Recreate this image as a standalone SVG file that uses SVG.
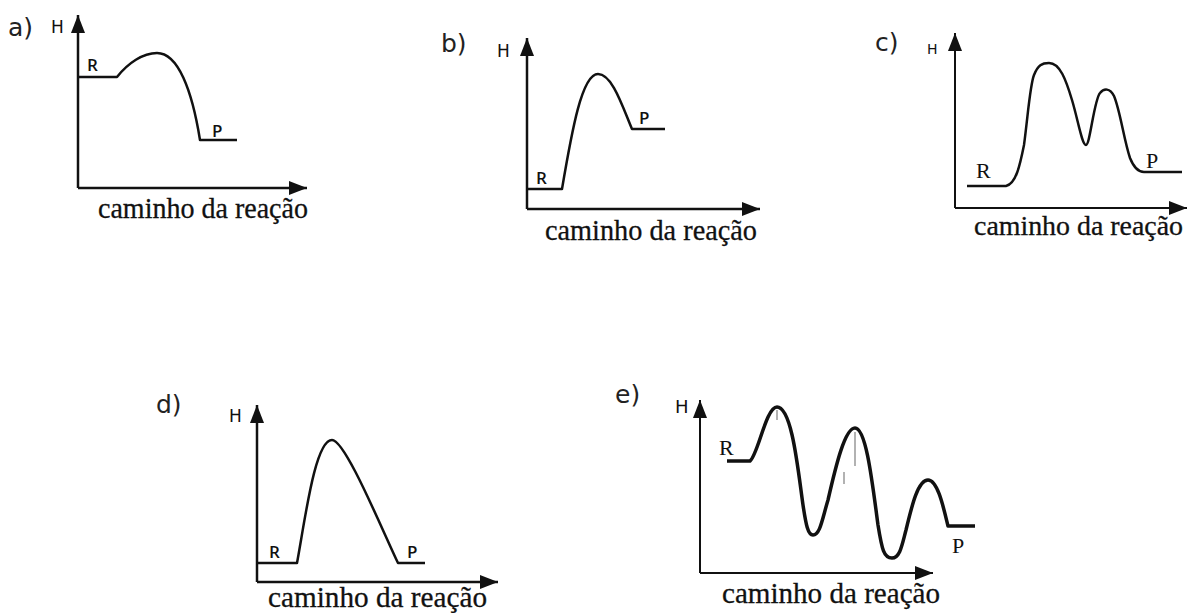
<svg xmlns="http://www.w3.org/2000/svg" width="1191" height="613" viewBox="0 0 1191 613">
<defs>
<marker id="arr" markerUnits="userSpaceOnUse" markerWidth="20" markerHeight="14" refX="18" refY="7" orient="auto">
<path d="M0,0 L18,7 L0,14 Z" fill="#111"/>
</marker>
<style>
.ax{stroke:#111;stroke-width:2.5;fill:none}
.cv{stroke:#111;stroke-width:2.5;fill:none;stroke-linejoin:round}
.cvt{stroke:#111;stroke-width:3.5;fill:none;stroke-linejoin:round}
.lbl{font-family:"DejaVu Sans",Verdana,sans-serif;font-size:25px;fill:#222}
.h{font-family:"DejaVu Sans",Verdana,sans-serif;font-size:17px;fill:#111}
.rp{font-family:"Open Sans","DejaVu Sans",sans-serif;font-size:17px;font-weight:600;fill:#111}
.rps{font-family:"Liberation Serif","Times New Roman",serif;font-size:22px;fill:#111}
.cap{font-family:"Liberation Serif","Times New Roman",serif;font-size:30px;fill:#111;stroke:#111;stroke-width:0.3}
.ghost{stroke:#999;stroke-width:1.5;fill:none}
</style>
</defs>
<rect width="1191" height="613" fill="#fff"/>

<g id="panel-a">
<text class="lbl" x="8" y="36">a)</text>
<text class="h" x="51" y="33">H</text>
<g class="connectors">
<path class="ax" d="M78,188 V15" marker-end="url(#arr)"/>
<path class="ax" d="M78,188 H307" marker-end="url(#arr)"/>
</g>
<path class="cv" d="M78,77 H117 C128,63 143,53 157,53 C178,53 192,90 200,140 H237"/>
<text class="rp" x="87" y="71">R</text>
<text class="rp" x="212" y="137">P</text>
<text class="cap" x="98" y="218" textLength="210" lengthAdjust="spacingAndGlyphs">caminho da reação</text>
</g>

<g id="panel-b">
<text class="lbl" x="441" y="52">b)</text>
<text class="h" x="497" y="57">H</text>
<g class="connectors">
<path class="ax" d="M527,209 V38" marker-end="url(#arr)"/>
<path class="ax" d="M527,209 H760" marker-end="url(#arr)"/>
</g>
<path class="cv" d="M527,189 H562 C572,130 582,74 598,74 C612,74 622,105 632,129 H665"/>
<text class="rp" x="536" y="184">R</text>
<text class="rp" x="639" y="124">P</text>
<text class="cap" x="545" y="240" textLength="212" lengthAdjust="spacingAndGlyphs">caminho da reação</text>
</g>

<g id="panel-c">
<text class="lbl" x="875" y="51">c)</text>
<text class="h" x="927" y="54" style="font-size:14px">H</text>
<g class="connectors">
<path class="ax" style="stroke-width:2" d="M955,208 V33" marker-end="url(#arr)"/>
<path class="ax" style="stroke-width:2" d="M955,208 H1187" marker-end="url(#arr)"/>
</g>
<path class="cv" d="M967,186 H1006 C1016,184 1020,165 1024,145 C1028,115 1030,85 1034,75 C1038,65 1042,63 1049,63 C1060,63 1066,80 1072,100 C1078,120 1082,145 1086,145 C1090,145 1094,100 1100,93 C1104,88 1110,88 1114,96 C1120,110 1124,140 1130,158 C1134,168 1138,172 1144,172 H1182"/>
<text class="rps" x="976" y="178">R</text>
<text class="rps" x="1146" y="168">P</text>
<text class="cap" x="974" y="235" style="font-size:28px" textLength="209" lengthAdjust="spacingAndGlyphs">caminho da reação</text>
</g>

<g id="panel-d">
<text class="lbl" x="156" y="413">d)</text>
<text class="h" x="229" y="422">H</text>
<g class="connectors">
<path class="ax" d="M257,582 V405" marker-end="url(#arr)"/>
<path class="ax" d="M257,582 H498" marker-end="url(#arr)"/>
</g>
<path class="cv" d="M257,563 H297 C305,520 315,440 332,440 C345,440 380,525 398,563 H425"/>
<text class="rp" x="269" y="558">R</text>
<text class="rp" x="407" y="558">P</text>
<text class="cap" x="268" y="607" textLength="219" lengthAdjust="spacingAndGlyphs">caminho da reação</text>
</g>

<g id="panel-e">
<text class="lbl" x="615" y="403">e)</text>
<text class="h" x="675" y="413" style="font-size:18px">H</text>
<g class="connectors">
<path class="ax" style="stroke-width:2" d="M700,573 V400" marker-end="url(#arr)"/>
<path class="ax" style="stroke-width:2" d="M700,573 H933" marker-end="url(#arr)"/>
</g>
<path class="ghost" d="M777,410 V420 M855,432 V466 M844,472 V484"/>
<path class="cvt" d="M727,461 H750 C758,455 766,407 777,407 C792,407 798,470 803,505 C806,525 808,535 813,535 C820,535 822,520 828,500 C836,465 845,428 855,428 C866,428 872,480 878,525 C882,550 884,558 892,558 C900,558 902,545 906,530 C912,505 918,480 928,480 C938,480 944,510 948,526 H975"/>
<text class="rps" x="719" y="455">R</text>
<text class="rps" x="952" y="553">P</text>
<text class="cap" x="722" y="603" textLength="218" lengthAdjust="spacingAndGlyphs">caminho da reação</text>
</g>
</svg>
